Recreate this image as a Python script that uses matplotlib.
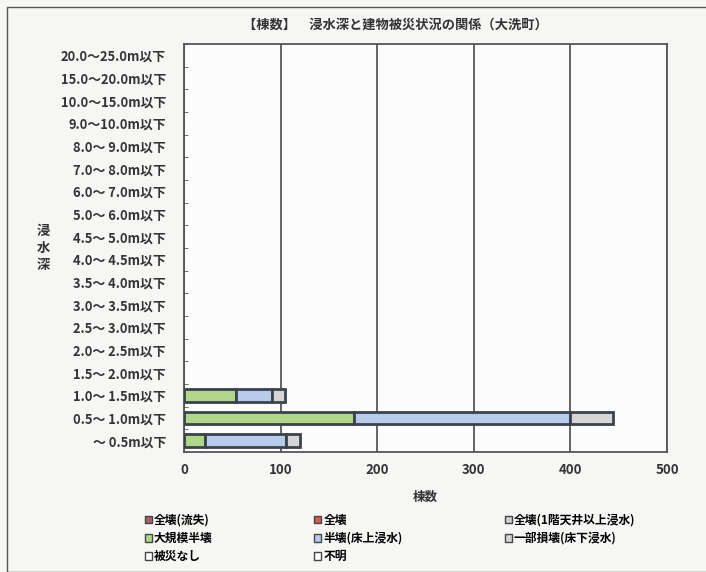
import matplotlib.pyplot as plt
import matplotlib.patches as mpatches
import numpy as np

plt.rcParams['font.family'] = ['Noto Sans CJK JP', 'DejaVu Sans']

# categories bottom -> top
depths = ["～ 0.5m以下", "0.5～ 1.0m以下", "1.0～ 1.5m以下", "1.5～ 2.0m以下",
          "2.0～ 2.5m以下", "2.5～ 3.0m以下", "3.0～ 3.5m以下", "3.5～ 4.0m以下",
          "4.0～ 4.5m以下", "4.5～ 5.0m以下", "5.0～ 6.0m以下", "6.0～ 7.0m以下",
          "7.0～ 8.0m以下", "8.0～ 9.0m以下", "9.0～10.0m以下", "10.0～15.0m以下",
          "15.0～20.0m以下", "20.0～25.0m以下"]

zeros = [0] * len(depths)
ryushitsu = list(zeros)          # 全壊(流失)
zenkai = list(zeros)             # 全壊
zenkai_tenjo = list(zeros)       # 全壊(1階天井以上浸水)
daikibo = [22, 176, 54] + zeros[3:]   # 大規模半壊
hankai = [84, 224, 37] + zeros[3:]    # 半壊(床上浸水)
ichibu = [14, 44, 14] + zeros[3:]     # 一部損壊(床下浸水)
nashi = list(zeros)              # 被災なし
fumei = list(zeros)              # 不明

series = [
    ("全壊(流失)", ryushitsu, "#a8606c"),
    ("全壊", zenkai, "#d95c5c"),
    ("全壊(1階天井以上浸水)", zenkai_tenjo, "#d0d0d0"),
    ("大規模半壊", daikibo, "#b0d68a"),
    ("半壊(床上浸水)", hankai, "#b7cceb"),
    ("一部損壊(床下浸水)", ichibu, "#d6d6d6"),
    ("被災なし", nashi, "#ffffff"),
    ("不明", fumei, "#ffffff"),
]

fig = plt.figure(figsize=(7.06, 5.72), dpi=100)
fig.patch.set_facecolor("#f6f6f4")
ax = fig.add_axes([184 / 706, 1 - 452 / 572, (667 - 184) / 706, (452 - 44) / 572])
ax.set_facecolor("#fcfcfc")

y = np.arange(len(depths))
left = np.zeros(len(depths))
for name, vals, color in series:
    vals = np.array(vals, dtype=float)
    m = vals > 0
    if m.any():
        ax.barh(y[m], vals[m], left=left[m], height=0.55, color=color,
                edgecolor="#3a424c", linewidth=2.0, zorder=3)
    left += vals

ax.set_xlim(0, 500)
ax.set_ylim(-0.5, len(depths) - 0.5)
ax.set_xticks([0, 100, 200, 300, 400, 500])
ax.set_yticks(y)
ax.set_yticklabels(depths, fontsize=9.3, fontweight="bold", color="#333333")
ax.set_yticks(np.arange(-0.5, len(depths), 1), minor=True)
ax.tick_params(axis="y", which="major", length=0, pad=13)
ax.tick_params(axis="y", which="minor", length=3, direction="in", color="#555555")
ax.tick_params(axis="x", length=0, pad=8, labelsize=9.5, labelcolor="#333333")
for t in ax.get_xticklabels():
    t.set_fontweight("bold")
ax.grid(axis="x", color="#3a3a3a", linewidth=1.1, zorder=1)
for s in ax.spines.values():
    s.set_color("#555555")
    s.set_linewidth(1.3)

ax.set_xlabel("棟数", fontsize=9, fontweight="bold", color="#333333", labelpad=10)
fig.text(43 / 706, 1 - 248 / 572, "浸\n水\n深", ha="center", va="center",
         fontsize=9.5, fontweight="bold", color="#333333", linespacing=1.3)
fig.text(395 / 706, 1 - 25 / 572, "【棟数】　浸水深と建物被災状況の関係（大洗町）",
         ha="center", va="center", fontsize=9.5, fontweight="bold", color="#333333")

# legend, column-major order so rows read left to right
handles = [mpatches.Patch(facecolor=c, edgecolor="#444444", linewidth=1.0, label=n)
           for n, _, c in series]
order = [0, 3, 6, 1, 4, 7, 2, 5]
fig.legend([handles[i] for i in order], [series[i][0] for i in order],
           ncol=3, loc="upper left", bbox_to_anchor=(134 / 706, 1 - 503 / 572),
           frameon=False, handlelength=0.6, handleheight=0.6,
           handletextpad=0.2, columnspacing=8.6, labelspacing=0.45,
           prop={"weight": "bold", "size": 8.5})

fig.patches.append(mpatches.Rectangle((7 / 706, 0), 1, 1 - 7 / 572, fill=False,
                                      edgecolor="#555555", linewidth=1.0,
                                      transform=fig.transFigure, figure=fig))

fig.savefig("out.png", dpi=100, facecolor=fig.get_facecolor())
